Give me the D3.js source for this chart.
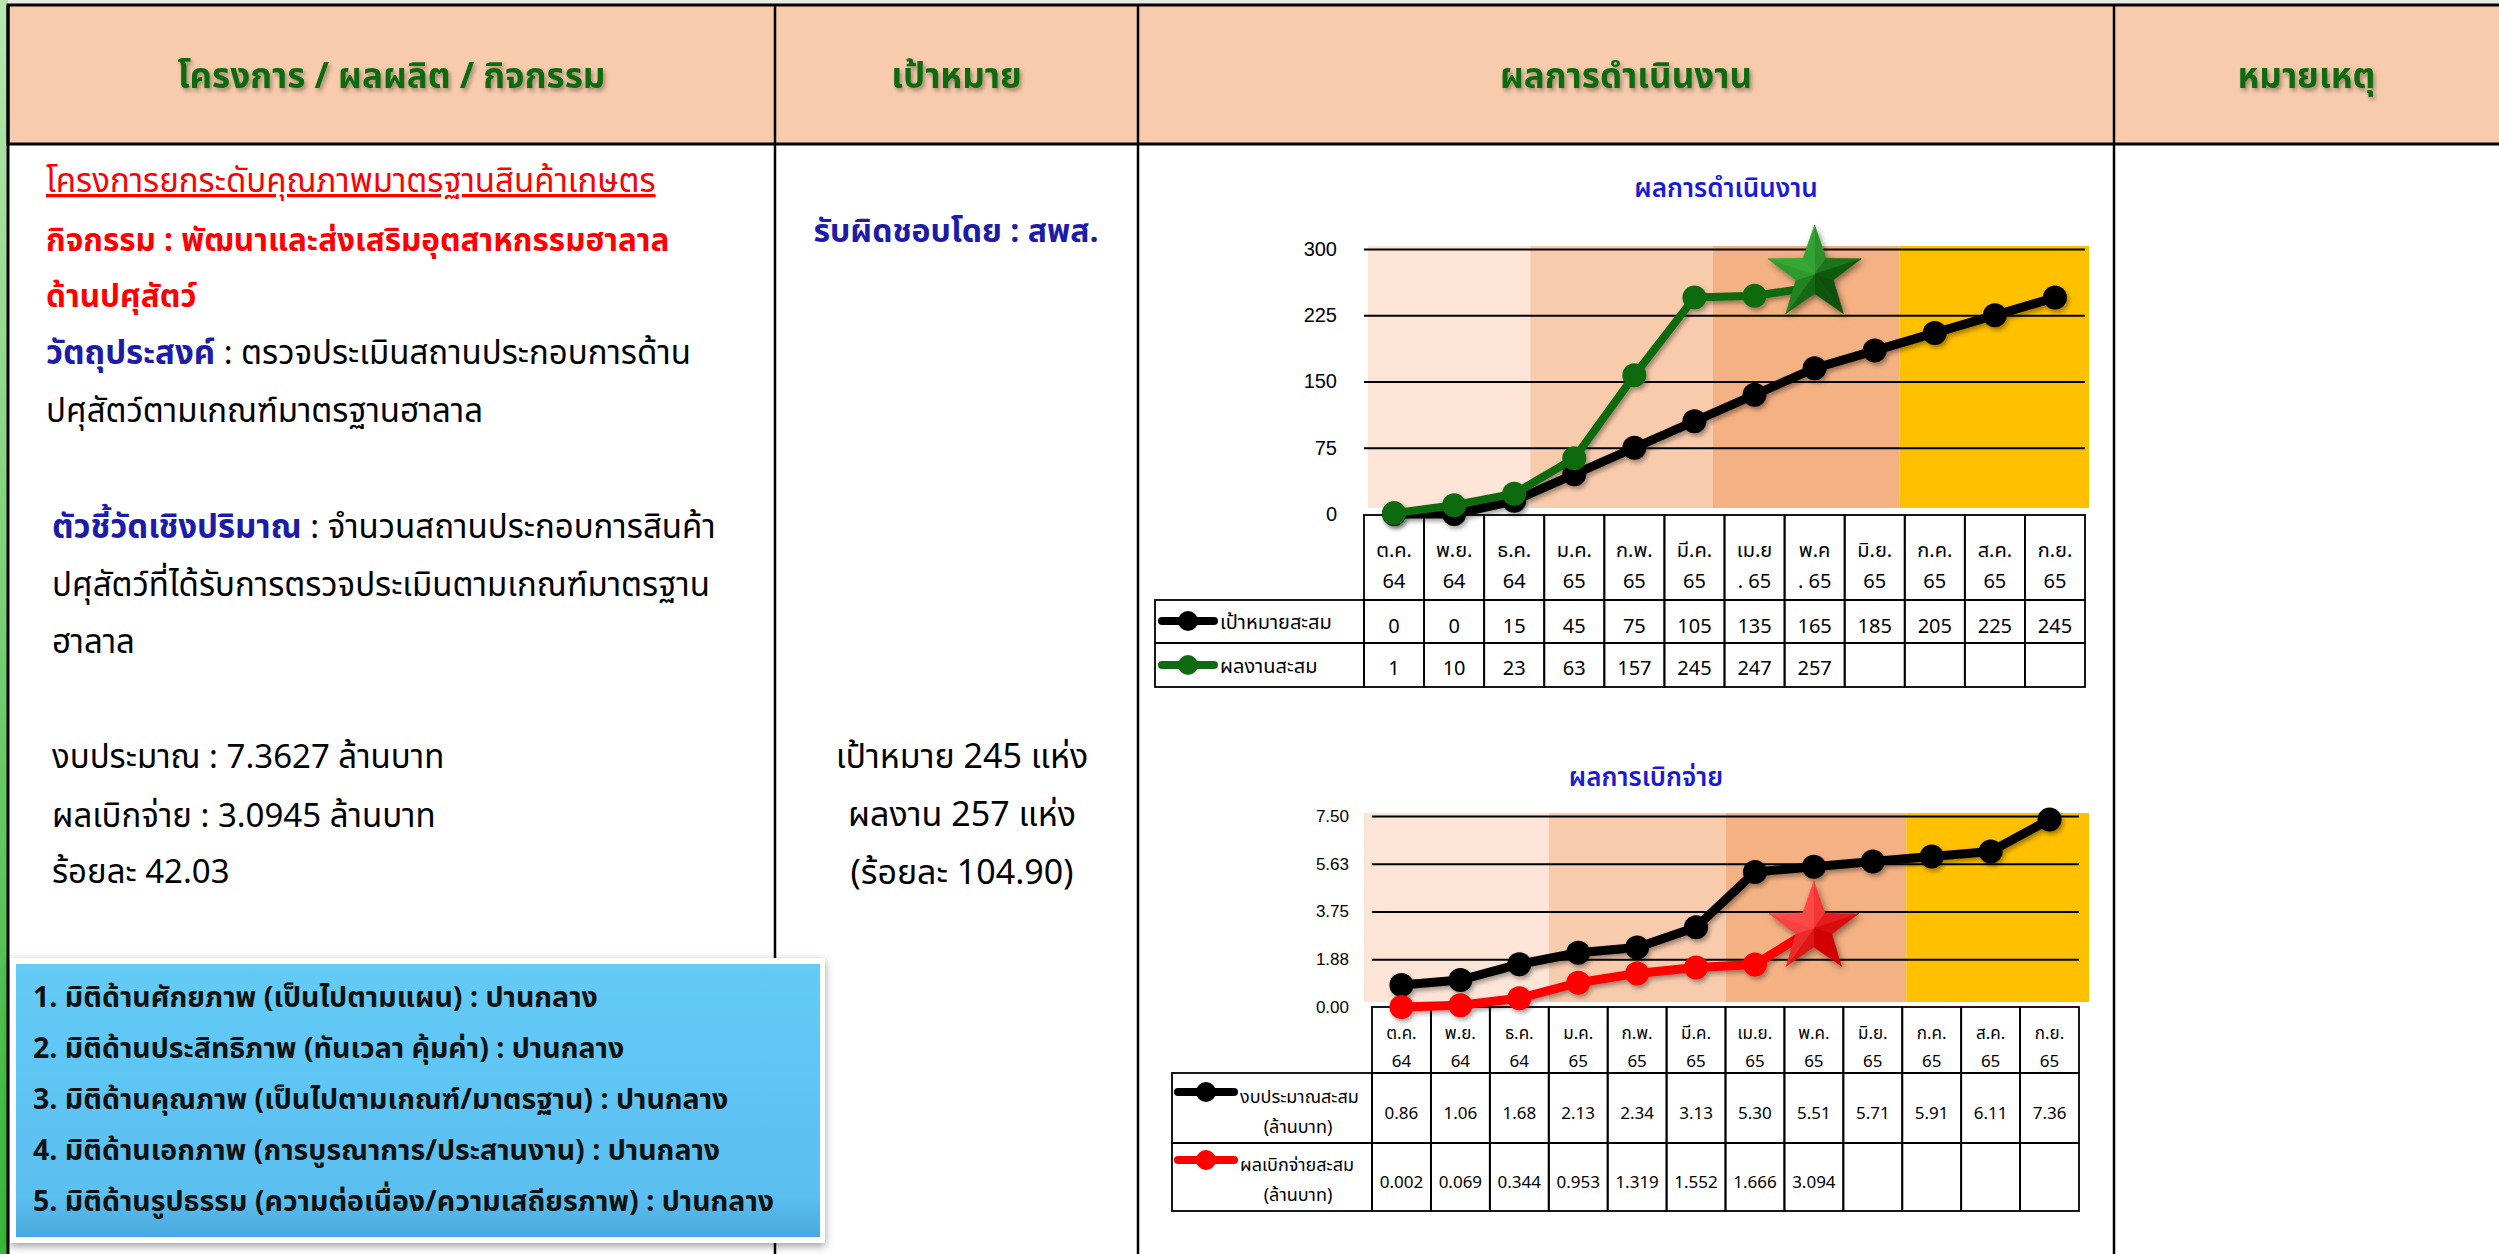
<!doctype html>
<html>
<head>
<meta charset="UTF-8">
<title>ผลการดำเนินงาน</title>
<script src="https://cdn.jsdelivr.net/npm/d3@7"></script>
<style>
  body{margin:0;background:#fff;}
  svg{display:block;font-family:"Leelawadee UI",Tahoma,"Noto Sans Thai","Noto Sans",sans-serif;}
</style>
</head>
<body>
<svg id="slide" width="2499" height="1254"></svg>
<script>
// ---- data ----
var headers = ["โครงการ / ผลผลิต / กิจกรรม", "เป้าหมาย", "ผลการดำเนินงาน", "หมายเหตุ"];

var months1 = ["ต.ค.","พ.ย.","ธ.ค.","ม.ค.","ก.พ.","มี.ค.","เม.ย","พ.ค","มิ.ย.","ก.ค.","ส.ค.","ก.ย."];
var years1  = ["64","64","64","65","65","65",". 65",". 65","65","65","65","65"];
var months2 = ["ต.ค.","พ.ย.","ธ.ค.","ม.ค.","ก.พ.","มี.ค.","เม.ย.","พ.ค.","มิ.ย.","ก.ค.","ส.ค.","ก.ย."];
var years2  = ["64","64","64","65","65","65","65","65","65","65","65","65"];

var targetCum = [0,0,15,45,75,105,135,165,185,205,225,245];      // เป้าหมายสะสม
var resultCum = [1,10,23,63,157,245,247,257];                    // ผลงานสะสม
var ticks1 = [0,75,150,225,300];

var budgetCum = [0.86,1.06,1.68,2.13,2.34,3.13,5.30,5.51,5.71,5.91,6.11,7.36];  // งบประมาณสะสม
var spentCum  = [0.002,0.069,0.344,0.953,1.319,1.552,1.666,3.094];              // ผลเบิกจ่ายสะสม
var ticks2 = [0,1.875,3.75,5.625,7.5];

var quarterStart = [0,3,6,9];
var quarterColors = ["#FCE4D6","#F8CBAD","#F4B183","#FFC000"];

var svg = d3.select("#slide");
var defs = svg.append("defs");

var lg = defs.append("linearGradient").attr("id","leftStrip").attr("x1",0).attr("y1",0).attr("x2",0).attr("y2",1);
lg.append("stop").attr("offset","0").attr("stop-color","#b8e6b0");
lg.append("stop").attr("offset","1").attr("stop-color","#36b836");
var bg = defs.append("linearGradient").attr("id","boxFill").attr("x1",0).attr("y1",0).attr("x2",0).attr("y2",1);
bg.append("stop").attr("offset","0").attr("stop-color","#63cbf6");
bg.append("stop").attr("offset","0.85").attr("stop-color","#5bbff0");
bg.append("stop").attr("offset","1").attr("stop-color","#4aa8dc");
var sh = defs.append("filter").attr("id","shadow").attr("x","-20%").attr("y","-20%").attr("width","140%").attr("height","140%");
sh.append("feDropShadow").attr("dx",2).attr("dy",3).attr("stdDeviation",2).attr("flood-opacity",0.35);
var glow = defs.append("filter").attr("id","glow").attr("x","-30%").attr("y","-30%").attr("width","160%").attr("height","160%");
glow.append("feDropShadow").attr("dx",2).attr("dy",3).attr("stdDeviation",3).attr("flood-opacity",0.45);
var boxSh = defs.append("filter").attr("id","boxShadow").attr("x","-5%").attr("y","-10%").attr("width","110%").attr("height","125%");
boxSh.append("feDropShadow").attr("dx",0).attr("dy",3).attr("stdDeviation",4).attr("flood-opacity",0.4);

// ---- frame ----
svg.append("rect").attr("x",0).attr("y",0).attr("width",2499).attr("height",6).attr("fill","#e4ece4");
svg.append("rect").attr("x",0).attr("y",0).attr("width",8).attr("height",1254).attr("fill","url(#leftStrip)");
svg.append("rect").attr("x",8).attr("y",5).attr("width",2495).attr("height",139)
  .attr("fill","#F8CBAD").attr("stroke","#000").attr("stroke-width",3);
var colX = [8,775,1138,2114,2499];
svg.selectAll("line.col").data(colX.slice(0,4)).enter().append("line")
  .attr("x1",function(d){return d;}).attr("x2",function(d){return d;})
  .attr("y1",5).attr("y2",1254).attr("stroke","#000").attr("stroke-width",function(d,i){return i==0?3:2.5;});
svg.selectAll("text.head").data(headers).enter().append("text")
  .attr("x",function(d,i){return (colX[i]+colX[i+1])/2;}).attr("y",88)
  .attr("text-anchor","middle").attr("font-size",35).attr("font-weight","bold")
  .attr("fill","#0b6b0b").attr("filter","url(#shadow)").text(function(d){return d;});

// ---- left column text ----
var red = "#ff0000", navy = "#1c1ca8";
function line(x, y, parts, size){
  var t = svg.append("text").attr("x",x).attr("y",y).attr("font-size",size||33);
  parts.forEach(function(p){
    t.append("tspan").attr("fill",p.c||"#000").attr("font-weight",p.b?"bold":"normal")
     .style("text-decoration",p.u?"underline":null).text(p.t);
  });
  return t;
}
line(46,192,[{t:"โครงการยกระดับคุณภาพมาตรฐานสินค้าเกษตร",c:red,u:true}],33);
line(46,251,[{t:"กิจกรรม : พัฒนาและส่งเสริมอุตสาหกรรมฮาลาล",c:red,b:true}],31.5);
line(46,307,[{t:"ด้านปศุสัตว์",c:red,b:true}],31.5);
line(46,364,[{t:"วัตถุประสงค์",c:navy,b:true},{t:" : ตรวจประเมินสถานประกอบการด้าน"}]);
line(46,422,[{t:"ปศุสัตว์ตามเกณฑ์มาตรฐานฮาลาล"}]);
line(52,538,[{t:"ตัวชี้วัดเชิงปริมาณ",c:navy,b:true},{t:" : จำนวนสถานประกอบการสินค้า"}]);
line(52,596,[{t:"ปศุสัตว์ที่ได้รับการตรวจประเมินตามเกณฑ์มาตรฐาน"}]);
line(52,653,[{t:"ฮาลาล"}]);
line(52,768,[{t:"งบประมาณ : 7.3627 ล้านบาท"}]);
line(52,827,[{t:"ผลเบิกจ่าย : 3.0945 ล้านบาท"}]);
line(52,883,[{t:"ร้อยละ 42.03"}]);

// middle column
svg.append("text").attr("x",956).attr("y",242).attr("text-anchor","middle").attr("font-size",32)
  .attr("font-weight","bold").attr("fill",navy).text("รับผิดชอบโดย : สพส.");
["เป้าหมาย 245 แห่ง","ผลงาน 257 แห่ง","(ร้อยละ 104.90)"].forEach(function(s,i){
  svg.append("text").attr("x",962).attr("y",768+i*58).attr("text-anchor","middle").attr("font-size",34).text(s);
});

// blue box
var dims = ["1. มิติด้านศักยภาพ (เป็นไปตามแผน) : ปานกลาง",
            "2. มิติด้านประสิทธิภาพ (ทันเวลา คุ้มค่า) : ปานกลาง",
            "3. มิติด้านคุณภาพ (เป็นไปตามเกณฑ์/มาตรฐาน) : ปานกลาง",
            "4. มิติด้านเอกภาพ (การบูรณาการ/ประสานงาน) : ปานกลาง",
            "5. มิติด้านรูปธรรม (ความต่อเนื่อง/ความเสถียรภาพ) : ปานกลาง"];
svg.append("rect").attr("x",10).attr("y",958).attr("width",815).attr("height",285)
  .attr("fill","#fff").attr("filter","url(#boxShadow)");
svg.append("rect").attr("x",16).attr("y",964).attr("width",804).attr("height",273).attr("fill","url(#boxFill)");
svg.selectAll("text.dim").data(dims).enter().append("text")
  .attr("x",33).attr("y",function(d,i){return 1007+i*51;})
  .attr("font-size",28.5).attr("font-weight","bold").attr("fill","#111").text(function(d){return d;});

// ---- star ----
function star(g, cx, cy, R, light, dark){
  var pts = d3.range(10).map(function(k){
    var a = (-90 + 36*k) * Math.PI/180, r = k%2==0 ? R : R*0.4;
    return [cx + r*Math.cos(a), cy + r*Math.sin(a)];
  });
  var s = g.append("g").attr("filter","url(#glow)");
  d3.range(10).forEach(function(k){
    var a = (-90 + 36*k + 18) * Math.PI/180;
    var t = 0.5 + 0.5*Math.cos(a - (-135*Math.PI/180));
    s.append("path").attr("d", d3.line()([[cx,cy], pts[k], pts[(k+1)%10]]) + "Z")
      .attr("fill", d3.interpolateRgb(dark, light)(t)).attr("stroke", d3.interpolateRgb(dark, light)(t)).attr("stroke-width",0.6);
  });
}

// ---- chart ----
function drawChart(o){
  var g = svg.append("g");
  var n = o.months.length;
  var x = d3.scaleBand().domain(d3.range(n)).range([o.x0, o.x1]);
  var y = d3.scaleLinear().domain([0, o.ticks[o.ticks.length-1]]).range([o.yBase, o.yTop]);
  var cx = function(i){ return x(i) + x.bandwidth()/2; };

  // quarter bands (shapes sit a little left of the columns on the upper chart)
  var qx = function(i){
    if (i==0) return o.bandX0;
    if (i==quarterStart.length) return o.bandX1;
    return x(quarterStart[i]) + o.bandShift[i-1];
  };
  g.selectAll("rect.band").data(quarterStart).enter().append("rect")
    .attr("x",function(d,i){ return qx(i); })
    .attr("width",function(d,i){ return qx(i+1) - qx(i); })
    .attr("y", y(o.ticks[o.ticks.length-1]) - o.bandOver).attr("height", y(0) - o.bandUnder - y(o.ticks[o.ticks.length-1]) + o.bandOver)
    .attr("fill",function(d,i){ return quarterColors[i]; });

  // grid
  var grid = g.append("g").attr("transform","translate("+o.gridX1+",0)")
    .call(d3.axisLeft(y).tickValues(o.ticks.slice(1)).tickSize(o.gridX1-o.gridX0).tickFormat(""));
  grid.select(".domain").remove();
  grid.selectAll("line").attr("stroke","#000").attr("stroke-width",2);

  // y labels
  var ax = g.append("g").attr("transform","translate("+o.labelX+",0)")
    .call(d3.axisLeft(y).tickValues(o.ticks).tickSize(0).tickPadding(0).tickFormat(d3.format(o.fmt)));
  ax.select(".domain").remove();
  ax.selectAll("text").attr("font-size",o.labelSize).attr("fill","#000").style("font-family","inherit");

  // title
  g.append("text").attr("x",o.titleX).attr("y",o.titleY).attr("text-anchor","middle")
    .attr("font-size",26).attr("font-weight",600).attr("fill","#1a1ad8").text(o.title);

  // table
  var tb = g.append("g").attr("stroke","#000").attr("stroke-width",1.8).attr("fill","none");
  tb.selectAll("rect.h").data(d3.range(n)).enter().append("rect")
    .attr("x",function(i){return x(i);}).attr("y",o.rows[0]).attr("width",x.bandwidth()).attr("height",o.rows[1]-o.rows[0]);
  [1,2].forEach(function(r){
    tb.append("rect").attr("x",o.legX).attr("y",o.rows[r]).attr("width",o.x0-o.legX).attr("height",o.rows[r+1]-o.rows[r]);
    tb.selectAll("rect.c"+r).data(d3.range(n)).enter().append("rect")
      .attr("x",function(i){return x(i);}).attr("y",o.rows[r]).attr("width",x.bandwidth()).attr("height",o.rows[r+1]-o.rows[r]);
  });
  var tt = g.append("g").attr("text-anchor","middle").attr("font-size",o.cellSize).attr("fill","#000");
  tt.selectAll("text.m").data(o.months).enter().append("text")
    .attr("x",function(d,i){return cx(i);}).attr("y",o.monthY).text(function(d){return d;});
  tt.selectAll("text.y").data(o.years).enter().append("text")
    .attr("x",function(d,i){return cx(i);}).attr("y",o.yearY).text(function(d){return d;});
  tt.selectAll("text.s1").data(o.s1).enter().append("text")
    .attr("x",function(d,i){return cx(i);}).attr("y",o.valY[0]).text(function(d){return d3.format(o.valFmt[0])(d);});
  tt.selectAll("text.s2").data(o.s2).enter().append("text")
    .attr("x",function(d,i){return cx(i);}).attr("y",o.valY[1]).text(function(d){return d3.format(o.valFmt[1])(d);});

  // legend keys
  [[o.c1,o.leg1],[o.c2,o.leg2]].forEach(function(k,r){
    var ky = o.keyY[r];
    g.append("line").attr("x1",o.keyX0).attr("x2",o.keyX1).attr("y1",ky).attr("y2",ky)
      .attr("stroke",k[0]).attr("stroke-width",8).attr("stroke-linecap","round");
    g.append("circle").attr("cx",(o.keyX0+o.keyX1)/2).attr("cy",ky).attr("r",10).attr("fill",k[0]);
    k[1].forEach(function(s,j){
      g.append("text").attr("x",j==0?o.legTextX:o.legSubX).attr("y",o.legTextY[r]+j*o.legLine)
        .attr("text-anchor",j==0?"start":"middle").attr("font-size",o.legSize).text(s);
    });
  });

  // series
  var ln = d3.line().x(function(d,i){return cx(i);}).y(function(d){return y(d);});
  [[o.s1,o.c1,o.w1],[o.s2,o.c2,o.w2]].forEach(function(s,si){
    var sg = g.append("g").attr("filter","url(#shadow)");
    sg.append("path").datum(s[0]).attr("d",ln).attr("fill","none").attr("stroke",s[1])
      .attr("stroke-width",s[2]).attr("stroke-linejoin","round");
    var pts = si==1 ? s[0].slice(0,-1) : s[0];
    sg.selectAll("circle").data(pts).enter().append("circle")
      .attr("cx",function(d,i){return cx(i);}).attr("cy",function(d){return y(d);}).attr("r",o.r).attr("fill",s[1]);
  });
  var last = o.s2.length-1;
  star(g, cx(last), y(o.s2[last]) + o.starDy, o.starR, o.starLight, o.starDark);
}

drawChart({
  title:"ผลการดำเนินงาน", titleX:1726, titleY:197,
  months:months1, years:years1, s1:targetCum, s2:resultCum, ticks:ticks1, fmt:"d",
  x0:1364, x1:2085, yBase:514, yTop:249,
  bandX0:1368, bandX1:2089, bandShift:[-14,-12,-5], bandOver:3, bandUnder:6,
  gridX0:1364, gridX1:2085, labelX:1337, labelSize:20,
  rows:[515,600,643,687], legX:1155, cellSize:20,
  monthY:557, yearY:588, valY:[633,675], valFmt:["d","d"],
  c1:"#000", c2:"#0f6b0f", w1:9, w2:8, r:12,
  leg1:["เป้าหมายสะสม"], leg2:["ผลงานสะสม"], keyX0:1162, keyX1:1214, keyY:[621,665],
  legTextX:1220, legSubX:0, legTextY:[629,673], legLine:0, legSize:20,
  starR:49, starDy:-13, starLight:"#34a834", starDark:"#0a4f0a"
});

drawChart({
  title:"ผลการเบิกจ่าย", titleX:1646, titleY:786,
  months:months2, years:years2, s1:budgetCum, s2:spentCum, ticks:ticks2, fmt:".2f",
  x0:1372, x1:2079, yBase:1007, yTop:816,
  bandX0:1364, bandX1:2089, bandShift:[0,0,4], bandOver:3, bandUnder:5,
  gridX0:1372, gridX1:2079, labelX:1349, labelSize:17,
  rows:[1007,1073,1143,1211], legX:1172, cellSize:17,
  monthY:1039, yearY:1067, valY:[1119,1188], valFmt:[".2f",".3f"],
  c1:"#000", c2:"#ff0000", w1:9, w2:9, r:12,
  leg1:["งบประมาณสะสม","(ล้านบาท)"], leg2:["ผลเบิกจ่ายสะสม","(ล้านบาท)"], keyX0:1178, keyX1:1234, keyY:[1092,1160],
  legTextX:1240, legSubX:1298, legTextY:[1103,1171], legLine:30, legSize:18,
  starR:47, starDy:0, starLight:"#ff4a4a", starDark:"#d00000"
});
</script>
</body>
</html>
